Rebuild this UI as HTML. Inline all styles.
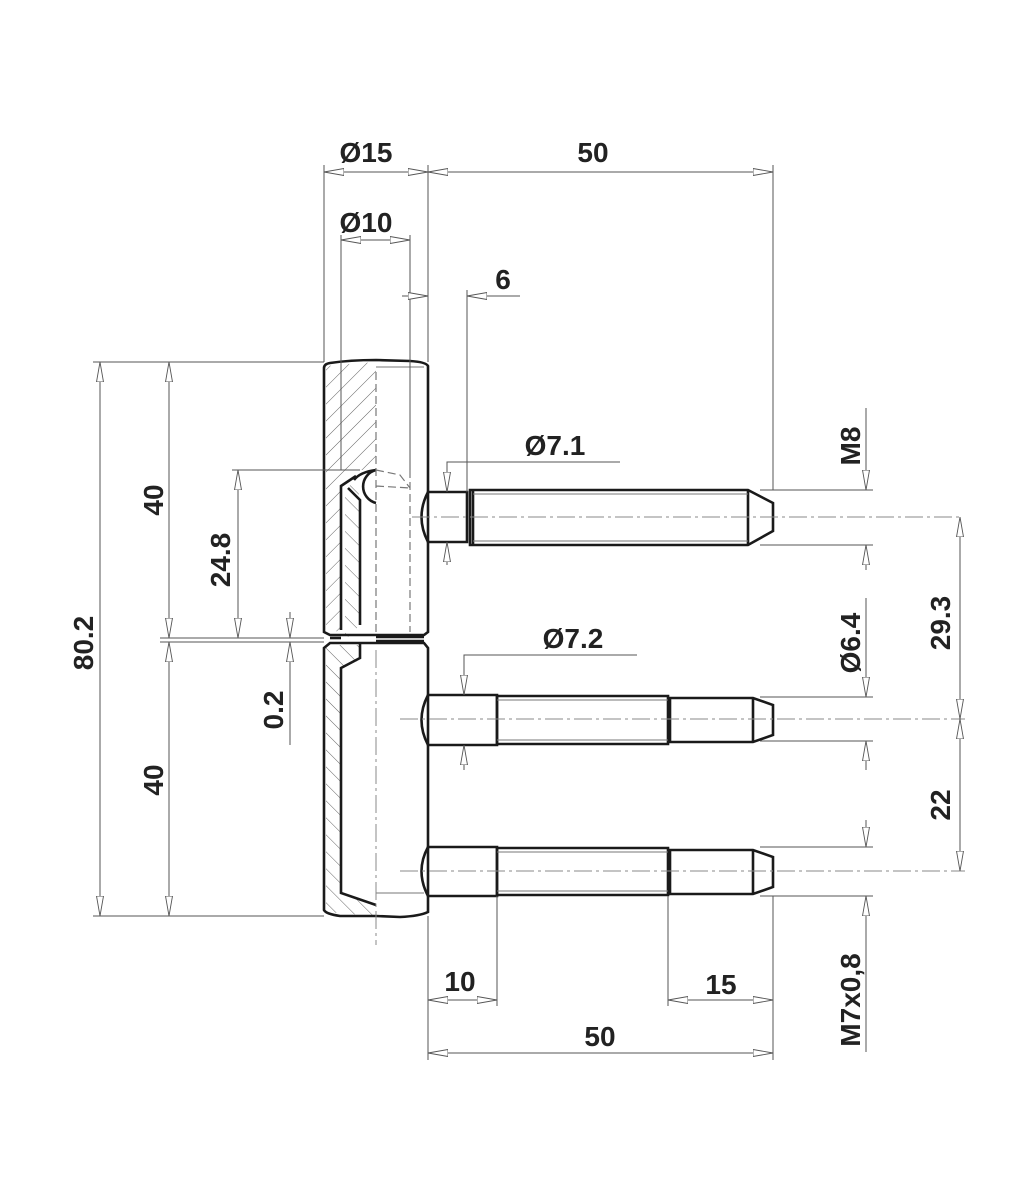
<!DOCTYPE html>
<html><head><meta charset="utf-8"><style>
html,body{margin:0;padding:0;background:#fff}
svg{display:block}
text{font-family:"Liberation Sans","DejaVu Sans",sans-serif;font-weight:bold;font-size:28px;fill:#222}
.d{stroke:#555;stroke-width:1;fill:none}
.o{stroke:#1a1a1a;stroke-width:2.6;fill:none}
.t{stroke:#777;stroke-width:1;fill:none}
.c{stroke:#888;stroke-width:1;fill:none;stroke-dasharray:18 4 3 4}
.h{stroke:#777;stroke-width:2.2;fill:none;stroke-dasharray:8 4}
</style></head><body>
<svg width="1024" height="1191" viewBox="0 0 1024 1191" xmlns="http://www.w3.org/2000/svg">
<defs>
<marker id="a" viewBox="0 0 20 8" refX="20" refY="4" markerWidth="20" markerHeight="8" markerUnits="userSpaceOnUse" orient="auto-start-reverse">
<path d="M0,0.5 L20,4 L0,7.5 Z" fill="#fff" stroke="#555" stroke-width="0.9"/></marker>
<pattern id="hatch" patternUnits="userSpaceOnUse" width="12" height="12" patternTransform="rotate(45)">
<line x1="0" y1="0" x2="0" y2="12" stroke="#666" stroke-width="1"/></pattern>
<pattern id="hatch2" patternUnits="userSpaceOnUse" width="12" height="12" patternTransform="rotate(-45)">
<line x1="0" y1="0" x2="0" y2="12" stroke="#666" stroke-width="1"/></pattern>
</defs>

<!-- hatched sections -->
<path d="M326,366 L376,362 L376,470 L360,470 L341,485 L341,630 L326,634 Z" fill="url(#hatch)"/>
<path d="M345,490 L356,480 L360,500 L360,625 L345,640 Z" fill="url(#hatch2)"/>
<path d="M326,646 L340,645 L360,645 L360,660 L341,668 L341,893 L376,905 L376,916 L326,912 Z" fill="url(#hatch2)"/>

<!-- body outlines -->
<path class="o" d="M324,368 Q324,364 330,363 Q350,360 376,360 L410,361 Q426,362 428,366 L428,632 L424,635 L330,635 L324,632 Z"/>
<path class="o" d="M324,648 L330,643 L424,643 L428,648 L428,912 Q420,916 400,917 L376,916 L340,916 Q326,914 324,910 Z"/>
<path class="o" d="M341,630 L341,486 L356,476"/>
<path class="o" d="M360,643 L360,658 L341,668 L341,893 L376,905"/>
<path class="o" d="M360,625 L360,500 L348,488"/>
<path class="o" d="M376,470 A17,17 0 0 0 376,503 M376,470 Q360,472 354,480"/>
<line class="o" x1="376" y1="637" x2="424" y2="637"/>
<line class="o" x1="376" y1="641" x2="424" y2="641"/>
<line class="o" x1="341" y1="638" x2="330" y2="638"/>
<!-- hidden lines -->
<path class="h" d="M376,372 L376,636 M410,470 L410,632 M376,486 L410,488 M376,470 L400,475 L410,488" style="stroke-width:1.2"/>
<line class="t" x1="376" y1="367" x2="424" y2="367"/>
<line class="t" x1="376" y1="893" x2="424" y2="893"/>
<line class="c" x1="376" y1="650" x2="376" y2="945"/>

<!-- pin 1 -->
<path class="o" d="M428,492 L467,492 L467,542 L428,542 Q415,517 428,492 Z"/>
<path class="o" d="M470,490 L748,490 L773,503 L773,531 L748,545 L470,545 Z"/>
<line class="o" x1="748" y1="490" x2="748" y2="545"/>
<line class="o" x1="473" y1="490" x2="473" y2="545"/>
<line class="t" x1="473" y1="494" x2="748" y2="494"/><line class="t" x1="473" y1="541" x2="748" y2="541"/>
<line class="c" x1="412" y1="517" x2="960" y2="517"/>
<!-- pin 2 -->
<path class="o" d="M428,695 L497,695 L497,745 L428,745 Q415,720 428,695 Z"/>
<path class="o" d="M497,696 L668,696 L668,744 L497,744 Z"/>
<path class="o" d="M670,698 L753,698 L773,705 L773,735 L753,742 L670,742 Z"/>
<line class="o" x1="753" y1="698" x2="753" y2="742"/>
<line class="t" x1="497" y1="700" x2="668" y2="700"/><line class="t" x1="497" y1="740" x2="668" y2="740"/>
<line class="c" x1="400" y1="719" x2="965" y2="719"/>
<!-- pin 3 -->
<path class="o" d="M428,847 L497,847 L497,896 L428,896 Q415,871 428,847 Z"/>
<path class="o" d="M497,848 L668,848 L668,895 L497,895 Z"/>
<path class="o" d="M670,850 L753,850 L773,857 L773,887 L753,894 L670,894 Z"/>
<line class="o" x1="753" y1="850" x2="753" y2="894"/>
<line class="t" x1="497" y1="852" x2="668" y2="852"/><line class="t" x1="497" y1="891" x2="668" y2="891"/>
<line class="c" x1="400" y1="871" x2="965" y2="871"/>

<!-- top dims -->
<line class="d" x1="324" y1="165" x2="324" y2="362"/>
<line class="d" x1="428" y1="165" x2="428" y2="362"/>
<line class="d" x1="773" y1="165" x2="773" y2="490"/>
<line class="d" x1="324" y1="172" x2="428" y2="172" marker-start="url(#a)" marker-end="url(#a)"/>
<line class="d" x1="428" y1="172" x2="773" y2="172" marker-start="url(#a)" marker-end="url(#a)"/>
<text x="366" y="162" text-anchor="middle">Ø15</text>
<text x="593" y="162" text-anchor="middle">50</text>
<line class="d" x1="341" y1="235" x2="341" y2="470"/>
<line class="d" x1="410" y1="235" x2="410" y2="470"/>
<line class="d" x1="341" y1="240" x2="410" y2="240" marker-start="url(#a)" marker-end="url(#a)"/>
<text x="366" y="232" text-anchor="middle">Ø10</text>
<line class="d" x1="467" y1="290" x2="467" y2="492"/>
<line class="d" x1="402" y1="296" x2="428" y2="296" marker-end="url(#a)"/>
<line class="d" x1="520" y1="296" x2="467" y2="296" marker-end="url(#a)"/>
<text x="503" y="289" text-anchor="middle">6</text>

<!-- Ø7.1 -->
<polyline class="d" points="620,462 447,462 447,492"/>
<line class="d" x1="447" y1="470" x2="447" y2="492" marker-end="url(#a)"/>
<line class="d" x1="447" y1="565" x2="447" y2="542" marker-end="url(#a)"/>
<text x="555" y="455" text-anchor="middle">Ø7.1</text>
<!-- Ø7.2 -->
<polyline class="d" points="637,655 464,655 464,695"/>
<line class="d" x1="464" y1="670" x2="464" y2="695" marker-end="url(#a)"/>
<line class="d" x1="464" y1="770" x2="464" y2="745" marker-end="url(#a)"/>
<text x="573" y="648" text-anchor="middle">Ø7.2</text>

<!-- left dims -->
<line class="d" x1="93" y1="362" x2="324" y2="362"/>
<line class="d" x1="93" y1="916" x2="324" y2="916"/>
<line class="d" x1="160" y1="638" x2="324" y2="638"/>
<line class="d" x1="160" y1="642" x2="324" y2="642"/>
<line class="d" x1="232" y1="470" x2="360" y2="470"/>
<line class="d" x1="100" y1="362" x2="100" y2="916" marker-start="url(#a)" marker-end="url(#a)"/>
<line class="d" x1="169" y1="362" x2="169" y2="638" marker-start="url(#a)" marker-end="url(#a)"/>
<line class="d" x1="169" y1="642" x2="169" y2="916" marker-start="url(#a)" marker-end="url(#a)"/>
<line class="d" x1="238" y1="470" x2="238" y2="638" marker-start="url(#a)" marker-end="url(#a)"/>
<line class="d" x1="290" y1="612" x2="290" y2="638" marker-end="url(#a)"/>
<line class="d" x1="290" y1="745" x2="290" y2="642" marker-end="url(#a)"/>
<text transform="translate(93,643) rotate(-90)" text-anchor="middle">80.2</text>
<text transform="translate(163,500) rotate(-90)" text-anchor="middle">40</text>
<text transform="translate(163,780) rotate(-90)" text-anchor="middle">40</text>
<text transform="translate(230,560) rotate(-90)" text-anchor="middle">24.8</text>
<text transform="translate(283,710) rotate(-90)" text-anchor="middle">0.2</text>

<!-- right dims -->
<line class="d" x1="760" y1="490" x2="873" y2="490"/>
<line class="d" x1="760" y1="545" x2="873" y2="545"/>
<line class="d" x1="866" y1="408" x2="866" y2="490" marker-end="url(#a)"/>
<line class="d" x1="866" y1="570" x2="866" y2="545" marker-end="url(#a)"/>
<text transform="translate(860,446) rotate(-90)" text-anchor="middle">M8</text>
<line class="d" x1="760" y1="697" x2="873" y2="697"/>
<line class="d" x1="760" y1="741" x2="873" y2="741"/>
<line class="d" x1="866" y1="598" x2="866" y2="697" marker-end="url(#a)"/>
<line class="d" x1="866" y1="770" x2="866" y2="741" marker-end="url(#a)"/>
<text transform="translate(860,643) rotate(-90)" text-anchor="middle">Ø6.4</text>
<line class="d" x1="760" y1="847" x2="873" y2="847"/>
<line class="d" x1="760" y1="896" x2="873" y2="896"/>
<line class="d" x1="866" y1="820" x2="866" y2="847" marker-end="url(#a)"/>
<line class="d" x1="866" y1="1052" x2="866" y2="896" marker-end="url(#a)"/>
<text transform="translate(860,1000) rotate(-90)" text-anchor="middle">M7x0,8</text>
<line class="d" x1="960" y1="517" x2="960" y2="719" marker-start="url(#a)" marker-end="url(#a)"/>
<line class="d" x1="960" y1="719" x2="960" y2="871" marker-start="url(#a)" marker-end="url(#a)"/>
<text transform="translate(950,623) rotate(-90)" text-anchor="middle">29.3</text>
<text transform="translate(950,805) rotate(-90)" text-anchor="middle">22</text>

<!-- bottom dims -->
<line class="d" x1="428" y1="916" x2="428" y2="1060"/>
<line class="d" x1="497" y1="896" x2="497" y2="1006"/>
<line class="d" x1="668" y1="896" x2="668" y2="1006"/>
<line class="d" x1="773" y1="896" x2="773" y2="1060"/>
<line class="d" x1="428" y1="1000" x2="497" y2="1000" marker-start="url(#a)" marker-end="url(#a)"/>
<line class="d" x1="668" y1="1000" x2="773" y2="1000" marker-start="url(#a)" marker-end="url(#a)"/>
<line class="d" x1="428" y1="1053" x2="773" y2="1053" marker-start="url(#a)" marker-end="url(#a)"/>
<text x="460" y="991" text-anchor="middle">10</text>
<text x="721" y="994" text-anchor="middle">15</text>
<text x="600" y="1046" text-anchor="middle">50</text>
</svg>
</body></html>
